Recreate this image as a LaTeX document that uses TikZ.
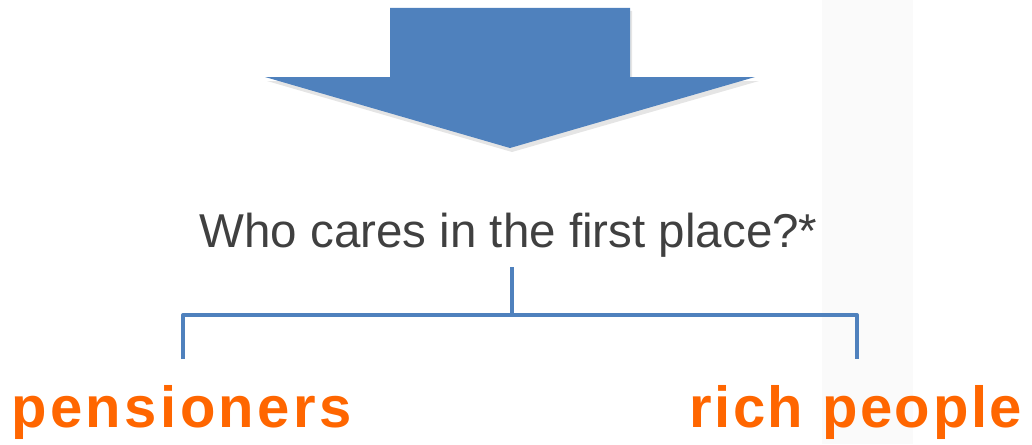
\documentclass[tikz,border=0pt]{standalone}
\usepackage{fontspec}
\setmainfont{Liberation Sans}
\newfontfamily\penfont[LetterSpace=6]{Liberation Sans Bold}
\newfontfamily\richfont[LetterSpace=4.5]{Liberation Sans Bold}
\definecolor{ablue}{HTML}{4F81BD}
\definecolor{tgray}{HTML}{404040}
\definecolor{orng}{HTML}{FF6600}
\begin{document}
\begin{tikzpicture}[x=1pt,y=-1pt,
  question/.style={text=tgray,font=\fontsize{47.5}{52}\selectfont,inner sep=0pt,anchor=base},
  target/.style={text=orng,inner sep=0pt,anchor=base west},
  bracketline/.style={draw=ablue,line width=4pt}]
\useasboundingbox (0,0) rectangle (1032,444);
% faint background watermark
\fill[black!2] (822,0) rectangle (913,444);
% big arrow
\fill[black!20,opacity=0.5] (392,11) -- (632,11) -- (632,81) -- (759,81) -- (512,152) -- (267,81) -- (392,81) -- cycle;
\fill[ablue] (390,8) -- (630,8) -- (630,77) -- (755,77) -- (510,148) -- (265,77) -- (390,77) -- cycle;
% texts
\node[question] (q) at (508.5,247) {Who cares in the first place?*};
\node[target,font=\fontsize{58}{64}\penfont] (pen) at (11,427) {pensioners};
\node[target,font=\fontsize{58}{64}\richfont] (rich) at (689,427) {rich people};
% bracket
\coordinate (stemtop) at (512,267);
\coordinate (join) at (512,315);
\coordinate (lefttop) at (183,315);
\coordinate (leftbot) at (183,359);
\coordinate (righttop) at (857,315);
\coordinate (rightbot) at (857,359);
\draw[bracketline] (stemtop) -- (join);
\draw[bracketline,line join=round] (leftbot) -- (lefttop) -- (righttop) -- (rightbot);
\end{tikzpicture}
\end{document}
